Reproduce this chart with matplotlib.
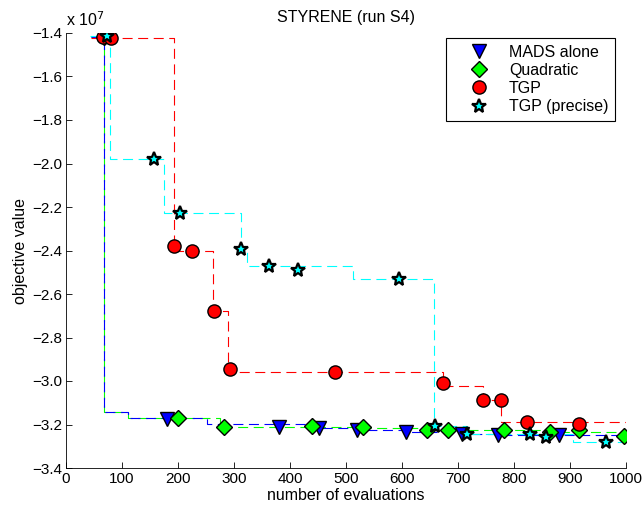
import matplotlib.pyplot as plt

plt.rcParams['font.family'] = ['Liberation Sans', 'DejaVu Sans']

# objective values are in units of 1e7

# best-so-far step lines (value changes at each x)
mads_line_x = [45, 68, 110, 252, 451, 520, 608, 708, 771, 1000]
mads_line_y = [-1.42, -3.142, -3.17, -3.198, -3.216, -3.225, -3.234, -3.244, -3.25, -3.25]
quad_line_x = [45, 68, 110, 275, 531, 644, 864, 996, 1000]
quad_line_y = [-1.42, -3.142, -3.168, -3.21, -3.215, -3.225, -3.234, -3.253, -3.253]
tgp_line_x = [45, 193, 263, 290, 674, 744, 776, 1000]
tgp_line_y = [-1.425, -2.40, -2.678, -2.958, -3.025, -3.087, -3.19, -3.19]
tgpp_line_x = [43, 79, 175, 313, 324, 512, 657, 716, 905, 1000]
tgpp_line_y = [-1.415, -1.98, -2.228, -2.393, -2.47, -2.53, -3.207, -3.244, -3.28, -3.28]

# marked points
mads_x = [68, 181, 381, 451, 520, 608, 708, 771, 880]
mads_y = [-1.42, -3.175, -3.212, -3.216, -3.225, -3.234, -3.244, -3.248, -3.248]
quad_x = [68, 200, 283, 440, 531, 644, 682, 782, 864, 916, 996]
quad_y = [-1.42, -3.17, -3.21, -3.207, -3.21, -3.225, -3.225, -3.225, -3.234, -3.225, -3.253]
tgp_x = [66, 81, 193, 225, 265, 292, 481, 674, 744, 776, 823, 916]
tgp_y = [-1.42, -1.425, -2.379, -2.40, -2.678, -2.945, -2.959, -3.009, -3.087, -3.087, -3.189, -3.198]
tgpp_x = [73, 157, 204, 313, 363, 415, 594, 659, 716, 828, 857, 964]
tgpp_y = [-1.414, -1.98, -2.228, -2.393, -2.47, -2.49, -2.531, -3.207, -3.244, -3.244, -3.257, -3.28]

fs = 11.5

fig = plt.figure(figsize=(6.42, 5.09), dpi=100)
ax = fig.add_axes([66/642, 1-468/509, 560/642, 435/509])

ax.step(quad_line_x, quad_line_y, where='post', color='#00ff00', lw=0.8, ls=(7, (9, 5)))
ax.step(mads_line_x, mads_line_y, where='post', color='#0000ff', lw=0.8, ls=(0, (9, 5)))
ax.step(tgp_line_x, tgp_line_y, where='post', color='#ff0000', lw=0.8, ls=(0, (9, 5)))
ax.step(tgpp_line_x, tgpp_line_y, where='post', color='#00ffff', lw=0.8, ls=(0, (9, 5)))

ax.plot(mads_x, mads_y, 'v', ms=9.5, mfc='#0000ff', mec='k', mew=1, ls='none', label='MADS alone')
ax.plot(quad_x, quad_y, 'D', ms=8, mfc='#00ff00', mec='k', mew=1, ls='none', label='Quadratic')
ax.plot(tgp_x, tgp_y, 'o', ms=9.5, mfc='#ff0000', mec='k', mew=1, ls='none', label='TGP')
ax.plot(tgpp_x, tgpp_y, '*', ms=10, mfc='#00ffff', mec='k', mew=1.6, ls='none', label='TGP (precise)')

ax.set_xlim(0, 1000)
ax.set_ylim(-3.4, -1.4)
ax.set_xticks(range(0, 1001, 100))
yt = [-1.4 - 0.2 * i for i in range(11)]
ax.set_yticks(yt)
ax.set_yticklabels(['\u2212%.1f' % abs(v) for v in yt])
ax.tick_params(direction='in', length=4, width=0.6, labelsize=11, pad=3)
for s in ['top', 'right']:
    ax.spines[s].set_visible(False)
for s in ['left', 'bottom']:
    ax.spines[s].set_linewidth(0.6)

ax.set_title('STYRENE (run S4)', fontsize=fs, pad=8)
ax.set_xlabel('number of evaluations', fontsize=fs, labelpad=1)
ax.set_ylabel('objective value', fontsize=fs, labelpad=3)
ax.text(0.0, 1.01, r'x 10$^7$', transform=ax.transAxes, fontsize=fs, va='bottom', ha='left')

leg = ax.legend(loc='upper right', bbox_to_anchor=(0.98, 0.988), borderaxespad=0,
                fancybox=False, edgecolor='k', fontsize=fs, handlelength=3.4,
                handletextpad=0.15, borderpad=0.4, labelspacing=0.2, framealpha=1)
leg.get_frame().set_linewidth(0.8)

fig.savefig('out.png', dpi=100)
